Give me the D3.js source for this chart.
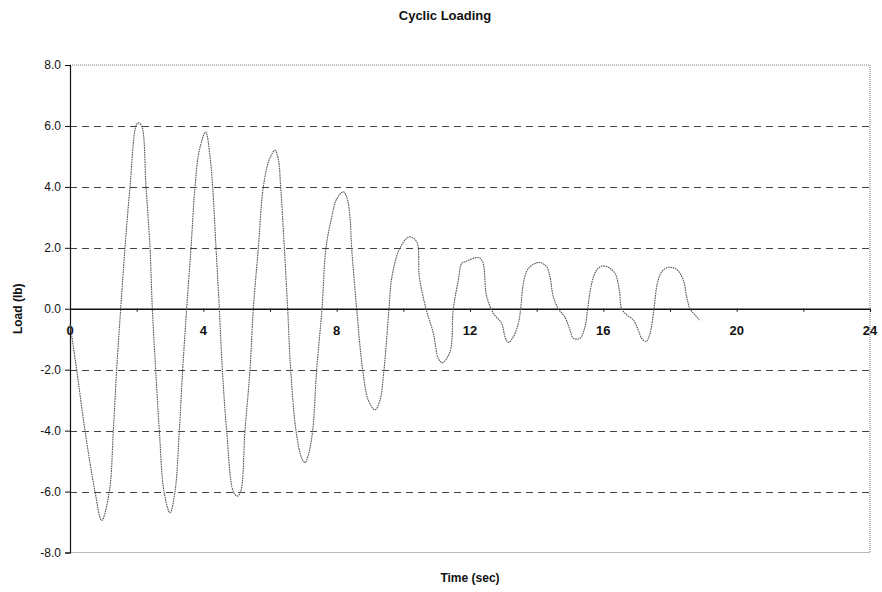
<!DOCTYPE html>
<html>
<head>
<meta charset="utf-8">
<script src="https://cdn.jsdelivr.net/npm/d3@7"></script>
<style>
  html, body { margin: 0; padding: 0; background: #fff; }
  svg { display: block; font-family: Arial, "Liberation Sans", Helvetica, sans-serif; }
</style>
</head>
<body>
<svg id="chart" width="882" height="592"></svg>
<script>
// ---- data ----
const timeSec = [0, 0.2, 0.45, 0.75, 0.95, 1.18, 1.3, 1.4, 1.52, 1.65, 1.8, 1.98, 2.05, 2.15, 2.28, 2.4, 2.47, 2.57, 2.68, 2.82, 3.0, 3.15, 3.28, 3.38, 3.5, 3.63, 3.75, 3.88, 4.07, 4.2, 4.28, 4.38, 4.48, 4.57, 4.7, 4.9, 5.02, 5.12, 5.25, 5.4, 5.5, 5.65, 5.8, 5.98, 6.15, 6.25, 6.32, 6.43, 6.53, 6.62, 6.78, 6.95, 7.05, 7.15, 7.28, 7.4, 7.56, 7.68, 7.85, 8.0, 8.2, 8.32, 8.4, 8.45, 8.6, 8.78, 8.95, 9.15, 9.3, 9.42, 9.57, 9.65, 9.9, 10.18, 10.4, 10.48, 10.68, 10.9, 11.05, 11.17, 11.4, 11.5, 11.65, 11.75, 11.85, 12.25, 12.38, 12.48, 12.55, 12.7, 12.95, 13.05, 13.15, 13.3, 13.45, 13.52, 13.6, 13.72, 13.9, 14.1, 14.3, 14.4, 14.5, 14.65, 14.85, 15.0, 15.1, 15.3, 15.45, 15.53, 15.65, 15.8, 15.95, 16.15, 16.35, 16.48, 16.55, 16.7, 16.9, 17.05, 17.15, 17.28, 17.4, 17.52, 17.62, 17.75, 17.95, 18.2, 18.4, 18.5, 18.6, 18.75, 18.88];
const loadLb = [-0.5, -2, -4, -6, -6.95, -6, -4, -2, 0, 2, 4, 6, 6.1, 6, 4, 2, 0, -2, -4, -6, -6.7, -6, -4, -2, 0, 2, 4, 5.2, 5.8, 5.0, 4, 2, 0, -2, -4, -6, -6.15, -6, -4, -2, 0, 2, 4, 4.9, 5.2, 4.9, 4, 2, 0, -2, -4, -4.9, -5.05, -4.8, -4, -2, 0, 2, 3.0, 3.6, 3.84, 3.6, 3.0, 2, 0, -2, -3.0, -3.32, -3.0, -2, 0, 1, 2, 2.36, 2.2, 1.05, 0, -0.8, -1.63, -1.77, -1.41, 0, 0.94, 1.49, 1.54, 1.68, 1.54, 0.5, 0.23, -0.15, -0.48, -0.92, -1.11, -0.92, -0.48, 0, 0.83, 1.27, 1.46, 1.52, 1.38, 1.05, 0.39, 0, -0.28, -0.7, -0.97, -0.97, -0.59, 0, 0.83, 1.27, 1.4, 1.36, 1.16, 0.61, 0, -0.2, -0.37, -0.7, -0.97, -1.08, -0.81, 0, 0.83, 1.21, 1.36, 1.29, 0.94, 0.39, 0, -0.2, -0.37];
const yTicks = [8, 6, 4, 2, 0, -2, -4, -6, -8];
const yTickLabels = ["8.0", "6.0", "4.0", "2.0", "0.0", "-2.0", "-4.0", "-6.0", "-8.0"];
const xTicks = [0, 2, 4, 6, 8, 10, 12, 14, 16, 18, 20, 22, 24];
const xTickLabels = ["0", "4", "8", "12", "16", "20", "24"];
const xLabelValues = [0, 4, 8, 12, 16, 20, 24];
const gridValues = [6, 4, 2, -2, -4, -6];
const titleText = "Cyclic Loading";
const xTitle = "Time (sec)";
const yTitle = "Load (lb)";

// ---- layout ----
const svg = d3.select("#chart");
const L = 70, R = 870, T = 65, B = 552.5;
const x = d3.scaleLinear().domain([0, 24]).range([L, R]);
const y = d3.scaleLinear().domain([-8, 8]).range([B, T]);

// plot border (dotted, gray)
svg.append("path")
  .attr("d", `M${L},${T}H${R}V${B}H${L}`)
  .attr("fill", "none").attr("stroke", "#777").attr("stroke-width", 1)
  .attr("stroke-dasharray", "1,1");

// dashed gridlines
svg.append("g").selectAll("line").data(gridValues).join("line")
  .attr("x1", L).attr("x2", R)
  .attr("y1", d => Math.round(y(d)) + 0.5).attr("y2", d => Math.round(y(d)) + 0.5)
  .attr("stroke", "#444").attr("stroke-width", 1)
  .attr("stroke-dasharray", "7,5");

// y axis
const yAxis = d3.axisLeft(y).tickValues(yTicks)
  .tickFormat((d, i) => yTickLabels[i]).tickSize(5).tickPadding(4);
const gy = svg.append("g").attr("transform", `translate(${L},0)`).call(yAxis);
gy.select(".domain").attr("stroke", "#111").attr("stroke-width", 1.2);
gy.selectAll(".tick line").attr("stroke", "#111");
gy.selectAll("text").attr("font-size", 12).attr("fill", "#111")
  .attr("font-family", "Arial, 'Liberation Sans', sans-serif");

// x axis at zero
const xAxis = d3.axisBottom(x).tickValues(xTicks).tickFormat("").tickSize(3).tickSizeOuter(0);
const gx = svg.append("g").attr("transform", `translate(0,${y(0)})`).call(xAxis);
gx.select(".domain").attr("stroke", "#111").attr("stroke-width", 1.3);
gx.selectAll(".tick line").attr("stroke", "#111");

// x tick labels
svg.append("g").selectAll("text").data(xLabelValues).join("text")
  .attr("x", d => x(d)).attr("y", y(0) + 26)
  .attr("text-anchor", "middle").attr("font-size", 13).attr("font-weight", "bold")
  .attr("fill", "#111")
  .text((d, i) => xTickLabels[i]);

// data line
const pts = timeSec.map((t, i) => [t, loadLb[i]]);
const line = d3.line().x(d => x(d[0])).y(d => y(d[1])).curve(d3.curveCatmullRom.alpha(0.5));
svg.append("path").datum(pts)
  .attr("d", line)
  .attr("fill", "none").attr("stroke", "#555").attr("stroke-width", 1.1)
  .attr("stroke-dasharray", "1.6,0.8");

// titles
svg.append("text").attr("x", 445).attr("y", 20)
  .attr("text-anchor", "middle").attr("font-size", 13).attr("font-weight", "bold")
  .attr("fill", "#111").text(titleText);
svg.append("text").attr("x", 470).attr("y", 582)
  .attr("text-anchor", "middle").attr("font-size", 12).attr("font-weight", "bold")
  .attr("fill", "#111").text(xTitle);
svg.append("text").attr("transform", `translate(22,${y(0)}) rotate(-90)`)
  .attr("text-anchor", "middle").attr("font-size", 12).attr("font-weight", "bold")
  .attr("fill", "#111").text(yTitle);
</script>
</body>
</html>
